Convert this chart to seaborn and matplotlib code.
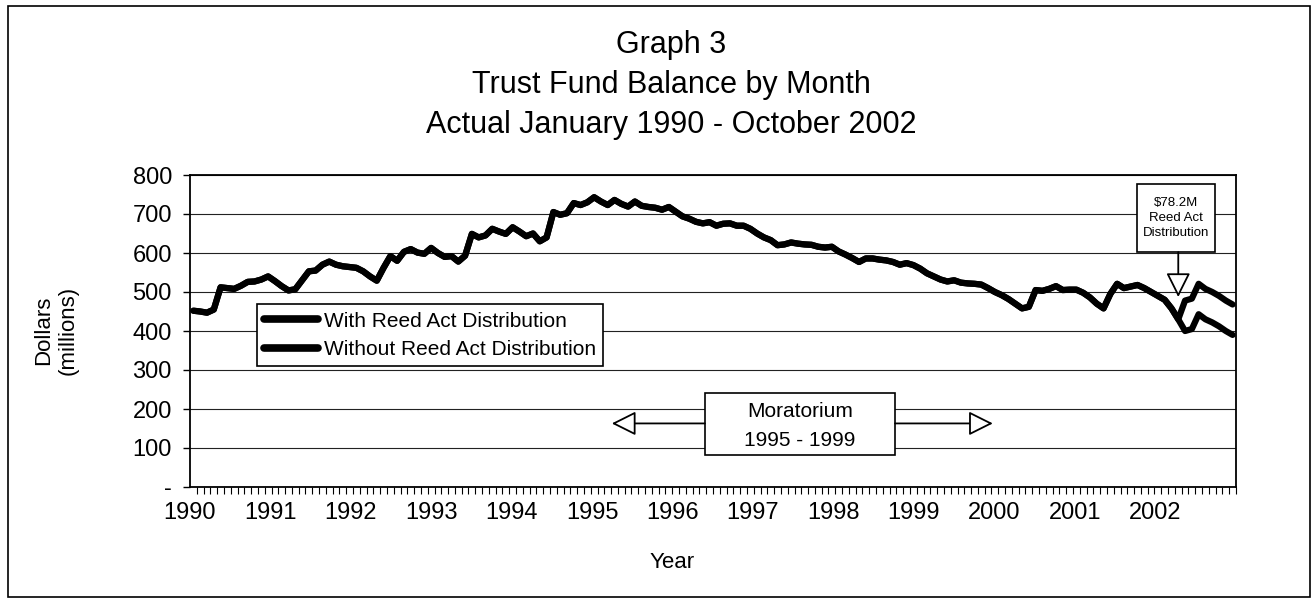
import matplotlib as mpl
mpl.use('Agg')
import matplotlib.pyplot as plt
from matplotlib.patches import Rectangle
import numpy as np
import pandas as pd
import seaborn as sns

# trust fund balance, $ millions, one value per month (Jan 1990 - Oct 2002)
bal_1990 = [452, 450, 447, 455, 512, 510, 508, 516, 526, 527, 532, 540]
bal_1991 = [528, 515, 504, 507, 530, 553, 555, 570, 578, 570, 566, 564]
bal_1992 = [562, 553, 540, 529, 562, 592, 580, 603, 610, 601, 598, 613]
bal_1993 = [600, 590, 592, 578, 593, 649, 640, 645, 662, 655, 649, 666]
bal_1994 = [655, 643, 650, 630, 640, 705, 698, 702, 728, 723, 730, 743]
bal_1995 = [732, 723, 736, 726, 719, 732, 721, 718, 716, 711, 718, 706]
bal_1996 = [694, 688, 680, 676, 679, 670, 675, 676, 670, 670, 662, 650]
bal_1997 = [640, 633, 620, 622, 627, 624, 622, 621, 616, 614, 616, 604]
bal_1998 = [596, 587, 577, 586, 586, 583, 581, 577, 570, 574, 569, 560]
bal_1999 = [548, 540, 532, 527, 530, 524, 522, 521, 519, 510, 500, 492]
bal_2000 = [482, 470, 458, 462, 505, 503, 508, 515, 505, 506, 506, 498]
bal_2001 = [486, 470, 458, 495, 521, 510, 514, 518, 510, 500, 490, 480]
bal_2002_shared = [458, 430]                       # Jan-Feb 2002, same for both
with_reed_tail = [400, 405, 443, 430, 422, 412, 400, 390]      # Mar-Oct 2002
without_reed_tail = [478, 483, 521, 508, 500, 490, 478, 468]   # Mar-Oct 2002

series_names = ['With Reed Act Distribution', 'Without Reed Act Distribution']
year_labels = [str(y) for y in range(1990, 2003)]
y_ticks = [0, 100, 200, 300, 400, 500, 600, 700, 800]
y_tick_labels = ['-', '100', '200', '300', '400', '500', '600', '700', '800']

shared = (bal_1990 + bal_1991 + bal_1992 + bal_1993 + bal_1994 + bal_1995 + bal_1996
          + bal_1997 + bal_1998 + bal_1999 + bal_2000 + bal_2001 + bal_2002_shared)
with_reed = shared + with_reed_tail
without_reed = shared + without_reed_tail
n_months = len(with_reed)

df = pd.DataFrame({
    'month': list(range(n_months)) * 2,
    'balance': with_reed + without_reed,
    'series': [series_names[0]] * n_months + [series_names[1]] * n_months,
})

sns.set_style('white', {'axes.edgecolor': 'black', 'text.color': 'black',
                        'xtick.color': 'black', 'ytick.color': 'black',
                        'axes.labelcolor': 'black'})
plt.rcParams['font.family'] = ['Liberation Sans', 'DejaVu Sans']

fig = plt.figure(figsize=(13.15, 6.03), dpi=100)
ax = fig.add_axes([190 / 1315, 1 - 487 / 603, 1046 / 1315, 312 / 603])

sns.lineplot(data=df, x='month', y='balance', hue='series', hue_order=series_names,
             palette=['black', 'black'], linewidth=4.5, errorbar=None, legend=False,
             ax=ax, solid_joinstyle='round', solid_capstyle='round', zorder=3)

ax.set_xlim(-0.5, n_months - 0.5)
ax.set_ylim(0, 800)
ax.set_yticks(y_ticks, labels=y_tick_labels, fontsize=17)
ax.yaxis.grid(True, color='#222222', lw=0.8)
ax.set_axisbelow(True)
for s in ax.spines.values():
    s.set_linewidth(1.3)
    s.set_color('black')
ax.tick_params(axis='y', length=5, width=1, direction='out', pad=8, left=True)

# year labels sit a little tighter than 12 months apart, as in the original
label_pos = np.linspace(-0.5, 141.6, len(year_labels))
ax.set_xticks(label_pos, labels=year_labels, fontsize=17)
ax.set_xticks(np.arange(-0.5, n_months, 1), minor=True)
ax.tick_params(axis='x', which='major', length=0, pad=11)
ax.tick_params(axis='x', which='minor', length=5, width=0.8, direction='out', bottom=True)
ax.set_xlabel('')
ax.set_ylabel('')

leg = ax.legend(ax.lines[:2], series_names, loc='upper left', bbox_to_anchor=(0.064, 0.585),
                borderaxespad=0, frameon=True, fancybox=False, edgecolor='black',
                framealpha=1, fontsize=15, handlelength=2.6, handletextpad=0.25,
                labelspacing=0.45, borderpad=0.35)
leg.get_frame().set_linewidth(1.2)
for h in leg.legend_handles:
    h.set_linewidth(5.5)
leg.set_zorder(5)

# moratorium box and arrows
ax.add_patch(Rectangle((75.3, 81), 28, 161, fc='white', ec='black', lw=1.2, zorder=4))
ax.text(89.3, 194, 'Moratorium', ha='center', va='center', fontsize=15, zorder=5)
ax.text(89.3, 120, '1995 - 1999', ha='center', va='center', fontsize=15, zorder=5)
arrow = dict(arrowstyle='-|>,head_length=1.0,head_width=0.5', fc='white', ec='black',
             lw=1.3, mutation_scale=15, shrinkA=0, shrinkB=0)
ax.annotate('', xy=(61.6, 163), xytext=(75.3, 163), arrowprops=arrow, zorder=4)
ax.annotate('', xy=(117.7, 163), xytext=(103.3, 163), arrowprops=arrow, zorder=4)

# Reed Act distribution callout
ax.add_patch(Rectangle((138.9, 602), 11.5, 174, fc='white', ec='black', lw=1.2, zorder=4))
ax.text(144.65, 689, '$78.2M\nReed Act\nDistribution', ha='center', va='center',
        fontsize=9.5, linespacing=1.35, zorder=5)
ax.annotate('', xy=(145.0, 487), xytext=(145.0, 602), arrowprops=arrow, zorder=4)

fig.text(671 / 1315, 1 - 45 / 603, 'Graph 3', ha='center', va='center', fontsize=22)
fig.text(671 / 1315, 1 - 85 / 603, 'Trust Fund Balance by Month', ha='center', va='center', fontsize=22)
fig.text(671 / 1315, 1 - 125 / 603, 'Actual January 1990 - October 2002', ha='center', va='center',
         fontsize=22)
fig.text(56 / 1315, 1 - 330 / 603, 'Dollars\n(millions)', rotation=90, ha='center', va='center',
         fontsize=16, linespacing=1.25)
fig.text(672 / 1315, 1 - 563 / 603, 'Year', ha='center', va='center', fontsize=16)

fig.add_artist(Rectangle((8 / 1315, 6 / 603), 1302 / 1315, 591 / 603, transform=fig.transFigure,
                         fill=False, ec='black', lw=1.2))

fig.savefig('out.png', dpi=100)
